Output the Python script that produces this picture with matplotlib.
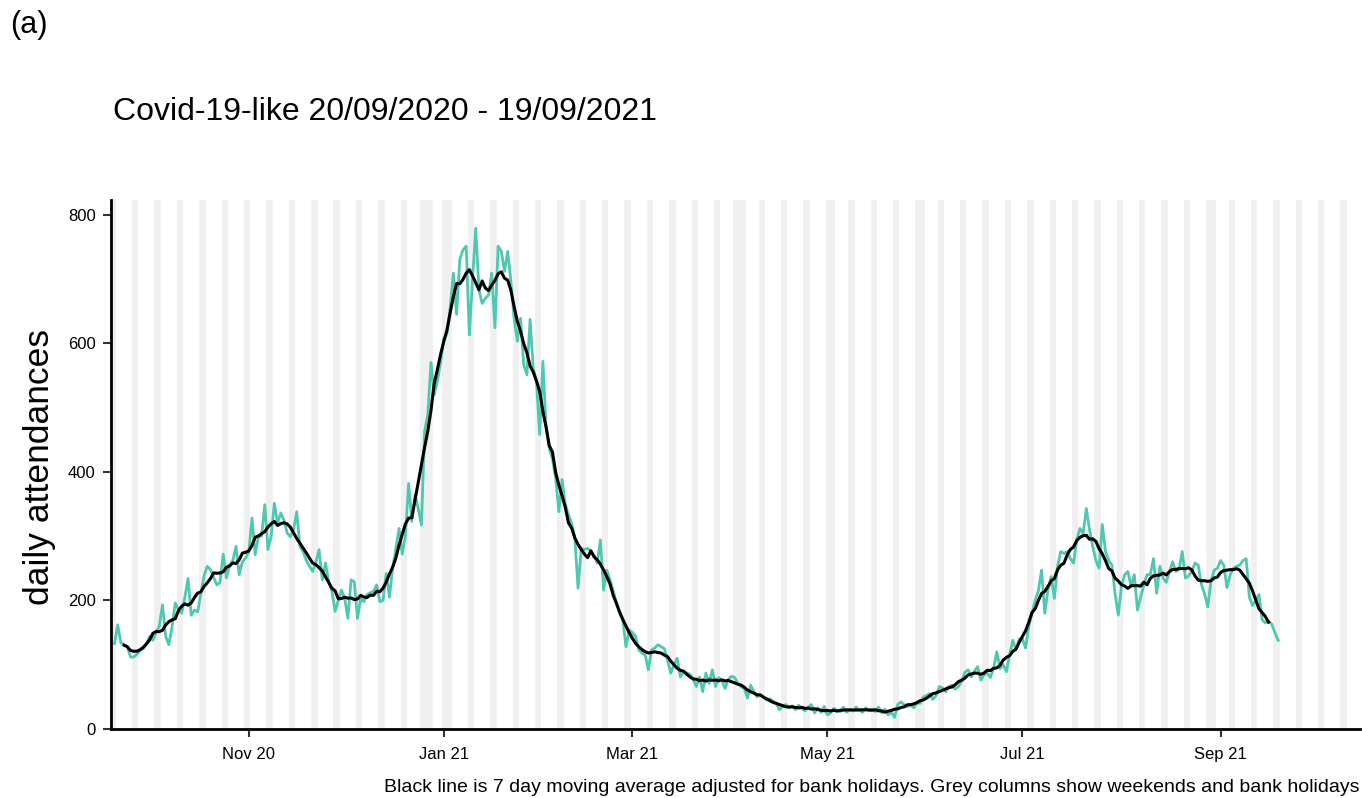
import pandas as pd
import matplotlib
matplotlib.use('Agg')
import matplotlib.pyplot as plt
import matplotlib.dates as mdates

plt.rcParams['font.family'] = ['Liberation Sans', 'DejaVu Sans']

start_date = '2020-09-20'
# daily attendances, one row per week (Sun..Sat)
attendances = [
    133, 162, 134, 131, 128, 112, 112,
    116, 122, 125, 132, 144, 138, 150,
    160, 193, 144, 131, 159, 196, 185,
    180, 205, 234, 177, 185, 182, 210,
    238, 253, 248, 236, 224, 228, 272,
    235, 255, 262, 284, 240, 260, 266,
    275, 328, 271, 299, 300, 349, 279,
    300, 351, 320, 336, 325, 305, 299,
    310, 338, 284, 276, 262, 253, 245,
    260, 279, 232, 258, 230, 214, 183,
    200, 216, 203, 172, 232, 229, 172,
    203, 198, 209, 212, 214, 224, 198,
    200, 242, 205, 250, 280, 312, 272,
    300, 382, 323, 364, 343, 317, 463,
    489, 570, 520, 541, 570, 608, 615,
    655, 709, 645, 730, 745, 751, 613,
    700, 779, 683, 662, 670, 675, 709,
    624, 751, 743, 712, 743, 696, 639,
    603, 639, 567, 551, 637, 560, 541,
    458, 572, 470, 437, 420, 390, 338,
    388, 350, 333, 320, 297, 219, 281,
    279, 281, 277, 270, 258, 294, 216,
    247, 232, 215, 196, 180, 170, 128,
    154, 150, 144, 123, 118, 115, 92,
    123, 126, 131, 128, 125, 107, 87,
    100, 110, 81, 89, 87, 85, 78,
    66, 81, 58, 87, 71, 92, 66,
    80, 75, 63, 77, 82, 80, 71,
    66, 63, 48, 68, 58, 50, 53,
    50, 45, 47, 43, 40, 30, 35,
    38, 33, 36, 30, 37, 32, 28,
    34, 38, 25, 33, 26, 35, 22,
    25, 32, 29, 27, 34, 26, 30,
    28, 34, 29, 26, 33, 28, 31,
    27, 34, 25, 31, 22, 26, 18,
    38, 42, 38, 35, 37, 33, 40,
    40, 50, 52, 55, 46, 52, 66,
    64, 58, 66, 68, 62, 66, 74,
    88, 92, 81, 90, 97, 76, 84,
    87, 80, 95, 120, 94, 100, 89,
    115, 138, 123, 140, 140, 126, 160,
    180, 200, 215, 247, 180, 216, 237,
    203, 253, 276, 273, 276, 265, 258,
    294, 312, 304, 343, 310, 284, 262,
    250, 318, 276, 262, 255, 210, 177,
    222, 240, 245, 222, 240, 185, 205,
    224, 240, 240, 265, 211, 253, 235,
    228, 245, 260, 245, 248, 276, 235,
    238, 245, 258, 255, 225, 210, 190,
    230, 247, 250, 262, 255, 220, 240,
    250, 253, 255, 262, 265, 205, 192,
    200, 209, 170, 165, 168, 163, 150,
    138,
]
bank_holidays = ['2020-12-25', '2020-12-28', '2021-01-01', '2021-04-02',
                 '2021-04-05', '2021-05-03', '2021-05-31', '2021-08-30']
shade_end = '2021-10-10'
tick_dates = ['2020-11-01', '2021-01-01', '2021-03-01',
              '2021-05-01', '2021-07-01', '2021-09-01']

dates = pd.date_range(start_date, periods=len(attendances), freq='D')
series = pd.Series(attendances, index=dates, dtype=float)
ma = series.rolling(7, center=True).mean()

fig = plt.figure(figsize=(13.62, 7.98), dpi=100)
ax = fig.add_axes([0.0815, 0.0865, 0.917, 0.663])

# grey columns for weekends and bank holidays
for d in pd.date_range(start_date, shade_end, freq='D'):
    if d.dayofweek >= 5 or d.strftime('%Y-%m-%d') in bank_holidays:
        x = mdates.date2num(d)
        ax.axvspan(x - 0.5, x + 0.5, color='#f0f0f0', lw=0, zorder=0)

ax.plot(mdates.date2num(dates), series.values, color='#4cc9b0', lw=2.0, zorder=2)
ax.plot(mdates.date2num(dates), ma.values, color='black', lw=2.2, zorder=3)

x0 = mdates.date2num(pd.Timestamp(start_date))
ax.set_xlim(x0 - 1.1, x0 + 389.6)
ax.set_ylim(0, 823)
ax.set_yticks([0, 200, 400, 600, 800])
ax.set_xticks(mdates.date2num(pd.to_datetime(tick_dates)))
ax.xaxis.set_major_formatter(mdates.DateFormatter('%b %y'))

for s in ['top', 'right']:
    ax.spines[s].set_visible(False)
for s in ['left', 'bottom']:
    ax.spines[s].set_linewidth(2)
    ax.spines[s].set_color('black')
ax.tick_params(length=6, width=1.5, color='#333333', labelsize=12, labelcolor='black')
ax.tick_params(axis='y', pad=5)
ax.tick_params(axis='x', pad=7)

fig.text(10 / 1362, 1 - 25 / 798, '(a)', fontsize=22, va='center', ha='left')
fig.text(113 / 1362, 1 - 112 / 798, 'Covid-19-like 20/09/2020 - 19/09/2021',
         fontsize=23, va='center', ha='left')
fig.text(40 / 1362, 1 - 467 / 798, 'daily attendances', rotation=90,
         fontsize=25.5, va='center', ha='center')
fig.text(1360 / 1362, 1 - 788 / 798,
         'Black line is 7 day moving average adjusted for bank holidays. '
         'Grey columns show weekends and bank holidays',
         fontsize=14, va='center', ha='right')

fig.savefig('out.png', dpi=100)
